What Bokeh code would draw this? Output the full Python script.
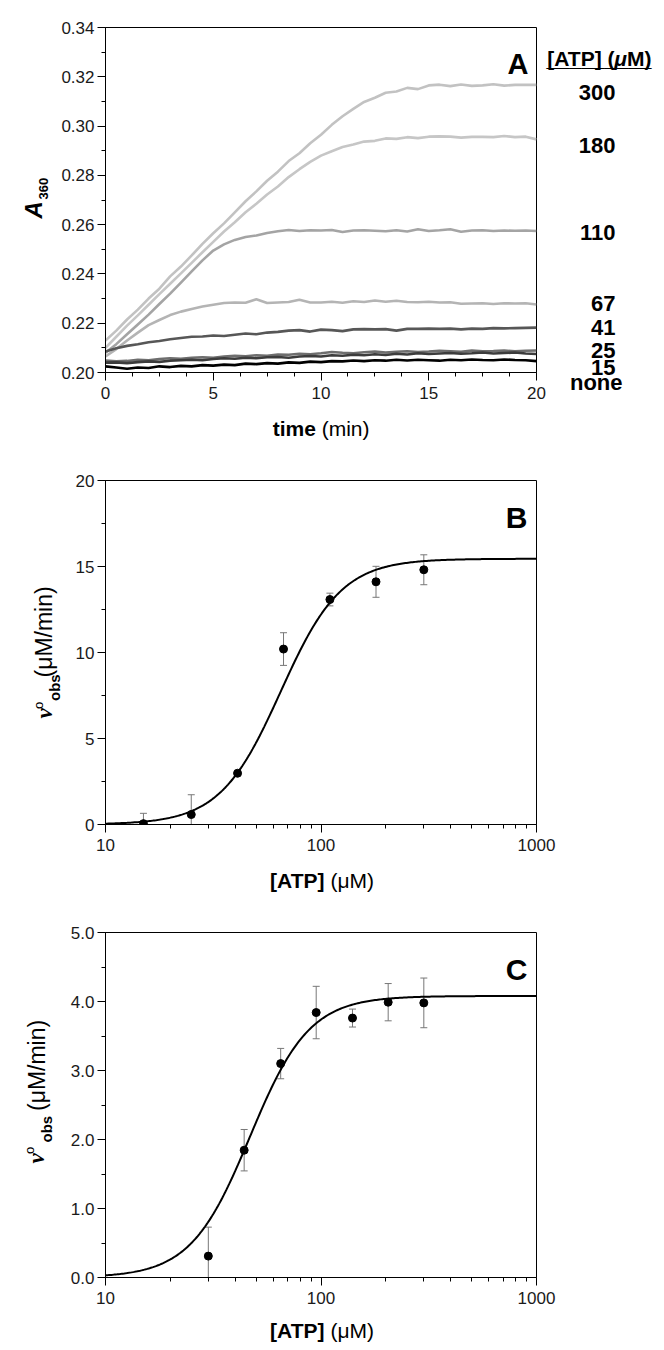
import numpy as np
from bokeh.plotting import figure
from bokeh.models import (Label, Range1d, SingleIntervalTicker, FixedTicker,
                          PrintfTickFormatter, Whisker, TeeHead, ColumnDataSource, GridBox)
from bokeh.layouts import column
from bokeh.embed import file_html
from bokeh.resources import INLINE

# ---------------- Panel A data ----------------
time_min = [0, 0.5, 1, 1.5, 2, 2.5, 3, 3.5, 4, 4.5, 5, 5.5, 6, 6.5, 7, 7.5, 8, 8.5, 9, 9.5,
            10, 10.5, 11, 11.5, 12, 12.5, 13, 13.5, 14, 14.5, 15, 15.5, 16, 16.5, 17, 17.5,
            18, 18.5, 19, 19.5, 20]

a_300 = [0.2130, 0.2170, 0.2215, 0.2255, 0.2300, 0.2340, 0.2390, 0.2430, 0.2475, 0.2522,
         0.2565, 0.2605, 0.2650, 0.2695, 0.2735, 0.2778, 0.2815, 0.2858, 0.2890, 0.2930,
         0.2965, 0.3005, 0.3040, 0.3070, 0.3098, 0.3115, 0.3135, 0.3140, 0.3155, 0.3150,
         0.3165, 0.3168, 0.3162, 0.3169, 0.3163, 0.3165, 0.3170, 0.3164, 0.3167, 0.3167, 0.3167]
a_180 = [0.2100, 0.2145, 0.2190, 0.2232, 0.2275, 0.2318, 0.2360, 0.2402, 0.2445, 0.2488,
         0.2530, 0.2572, 0.2610, 0.2650, 0.2685, 0.2722, 0.2755, 0.2793, 0.2825, 0.2855,
         0.2880, 0.2898, 0.2915, 0.2925, 0.2937, 0.2940, 0.2950, 0.2948, 0.2955, 0.2951,
         0.2957, 0.2958, 0.2957, 0.2953, 0.2956, 0.2956, 0.2955, 0.2960, 0.2955, 0.2957, 0.2946]
a_110 = [0.2080, 0.2115, 0.2155, 0.2195, 0.2235, 0.2278, 0.2320, 0.2365, 0.2410, 0.2455,
         0.2495, 0.2520, 0.2538, 0.2550, 0.2556, 0.2566, 0.2573, 0.2578, 0.2574, 0.2577,
         0.2576, 0.2578, 0.2570, 0.2576, 0.2577, 0.2575, 0.2573, 0.2577, 0.2572, 0.2581,
         0.2574, 0.2577, 0.2581, 0.2571, 0.2576, 0.2577, 0.2574, 0.2576, 0.2575, 0.2576, 0.2574]
a_67 = [0.2065, 0.2095, 0.2130, 0.2162, 0.2192, 0.2213, 0.2233, 0.2247, 0.2258, 0.2268,
        0.2275, 0.2282, 0.2284, 0.2283, 0.2297, 0.2282, 0.2284, 0.2286, 0.2295, 0.2284,
        0.2284, 0.2287, 0.2283, 0.2289, 0.2286, 0.2292, 0.2287, 0.2291, 0.2286, 0.2285,
        0.2287, 0.2284, 0.2285, 0.2279, 0.2280, 0.2281, 0.2278, 0.2281, 0.2280, 0.2281, 0.2276]
a_41 = [0.2085, 0.2098, 0.2108, 0.2115, 0.2123, 0.2128, 0.2135, 0.2140, 0.2145, 0.2146,
        0.2150, 0.2148, 0.2153, 0.2158, 0.2155, 0.2162, 0.2165, 0.2170, 0.2172, 0.2166,
        0.2174, 0.2172, 0.2168, 0.2175, 0.2176, 0.2175, 0.2176, 0.2170, 0.2177, 0.2177,
        0.2178, 0.2177, 0.2178, 0.2175, 0.2178, 0.2177, 0.2180, 0.2179, 0.2180, 0.2181, 0.2182]
a_25 = [0.2048, 0.2045, 0.2047, 0.2052, 0.2050, 0.2055, 0.2058, 0.2056, 0.2060, 0.2062,
        0.2060, 0.2065, 0.2068, 0.2066, 0.2070, 0.2068, 0.2073, 0.2072, 0.2076, 0.2074,
        0.2078, 0.2083, 0.2080, 0.2078, 0.2082, 0.2085, 0.2081, 0.2084, 0.2086, 0.2083,
        0.2085, 0.2088, 0.2086, 0.2084, 0.2089, 0.2086, 0.2087, 0.2089, 0.2086, 0.2088, 0.2089]
a_15 = [0.2040, 0.2041, 0.2038, 0.2042, 0.2045, 0.2043, 0.2048, 0.2050, 0.2052, 0.2050,
        0.2055, 0.2058, 0.2056, 0.2060, 0.2058, 0.2062, 0.2063, 0.2060, 0.2065, 0.2067,
        0.2065, 0.2070, 0.2068, 0.2072, 0.2070, 0.2074, 0.2071, 0.2076, 0.2073, 0.2078,
        0.2075, 0.2077, 0.2079, 0.2076, 0.2078, 0.2081, 0.2077, 0.2079, 0.2081, 0.2077, 0.2075]
a_none = [0.2025, 0.2020, 0.2015, 0.2020, 0.2018, 0.2025, 0.2022, 0.2027, 0.2025, 0.2030,
          0.2028, 0.2032, 0.2030, 0.2036, 0.2034, 0.2038, 0.2036, 0.2041, 0.2039, 0.2044,
          0.2042, 0.2046, 0.2045, 0.2049, 0.2046, 0.2050, 0.2048, 0.2052, 0.2049, 0.2052,
          0.2050, 0.2048, 0.2052, 0.2050, 0.2053, 0.2051, 0.2050, 0.2053, 0.2051, 0.2050, 0.2046]

curve_labels = ["300", "180", "110", "67", "41", "25", "15", "none"]
curve_series = [a_300, a_180, a_110, a_67, a_41, a_25, a_15, a_none]
curve_colors = ["#c2c2c2", "#c6c6c6", "#a4a4a4", "#b4b4b4", "#575757", "#6e6e6e", "#3c3c3c", "#000000"]

# ---------------- Panel B data ----------------
b_atp = [15, 25, 41, 67, 110, 180, 300]
b_v = [0.05, 0.58, 2.98, 10.2, 13.08, 14.11, 14.81]
b_err = [0.6, 1.15, 0.1, 0.95, 0.37, 0.9, 0.87]
b_vmax, b_k, b_n = 15.45, 65.0, 3.08

# ---------------- Panel C data ----------------
c_atp = [30, 44, 65, 95, 140, 205, 300]
c_v = [0.31, 1.845, 3.10, 3.84, 3.76, 3.99, 3.98]
c_err = [0.42, 0.30, 0.22, 0.38, 0.13, 0.27, 0.36]
c_vmax, c_k, c_n = 4.08, 46.8, 3.15

log_major = [10, 100, 1000]
log_minor = [20, 30, 40, 50, 60, 70, 80, 90, 200, 300, 400, 500, 600, 700, 800, 900]

FONT = "Liberation Sans"
SERIF = "Liberation Serif"
PAGE_W, PAGE_H = 664, 1350


def make_fig(top, fh, bottom, log=False):
    p = figure(frame_width=431, frame_height=fh, min_border_left=105, min_border_right=128,
               min_border_top=top, min_border_bottom=bottom, output_backend="svg",
               toolbar_location=None, x_axis_type="log" if log else "linear")
    p.outline_line_color = "black"
    p.outline_line_width = 1
    p.grid.visible = False
    p.background_fill_color = "white"
    p.border_fill_color = "white"
    for ax in p.axis:
        ax.axis_line_color = "black"
        ax.major_tick_line_color = "black"
        ax.minor_tick_line_color = "black"
        ax.major_tick_out = 8
        ax.major_tick_in = 0
        ax.minor_tick_out = 4
        ax.minor_tick_in = 0
        ax.major_label_text_font = FONT
        ax.major_label_text_font_size = "17px"
        ax.major_label_text_color = "#1a1a1a"
        ax.axis_label = None
    p.yaxis.major_label_standoff = 3
    p.xaxis.major_label_standoff = 6
    return p


# ---------------- Panel A ----------------
pa = make_fig(27, 345, 68)
pa.x_range = Range1d(0, 20)
pa.y_range = Range1d(0.20, 0.34)
pa.xaxis.ticker = SingleIntervalTicker(interval=5, num_minor_ticks=4)
pa.yaxis.ticker = SingleIntervalTicker(interval=0.02, num_minor_ticks=2)
pa.yaxis.formatter = PrintfTickFormatter(format="%.2f")
for ser, col in zip(curve_series, curve_colors):
    pa.line(time_min, ser, line_color=col, line_width=2.6)

# ---------------- Panel B ----------------
pb = make_fig(40, 344, 76, log=True)
pb.x_range = Range1d(10, 1000)
pb.y_range = Range1d(0, 20)
pb.xaxis.ticker = FixedTicker(ticks=log_major, minor_ticks=log_minor)
pb.xaxis.formatter = PrintfTickFormatter(format="%d")
pb.yaxis.ticker = SingleIntervalTicker(interval=5, num_minor_ticks=2)
xs = np.logspace(1, 3, 300)
pb.line(xs, b_vmax * xs ** b_n / (b_k ** b_n + xs ** b_n), line_color="black", line_width=2)
srcb = ColumnDataSource(dict(x=b_atp, y=b_v,
                             up=[v + e for v, e in zip(b_v, b_err)],
                             lo=[max(v - e, 0) for v, e in zip(b_v, b_err)]))
pb.add_layout(Whisker(base="x", upper="up", lower="lo", source=srcb, line_color="#777777",
                      line_width=1,
                      upper_head=TeeHead(size=7, line_color="#777777", line_width=1),
                      lower_head=TeeHead(size=7, line_color="#777777", line_width=1)))
pb.scatter("x", "y", source=srcb, size=8, color="black")

# ---------------- Panel C ----------------
pc = make_fig(32, 345, 73, log=True)
pc.x_range = Range1d(10, 1000)
pc.y_range = Range1d(0, 5)
pc.xaxis.ticker = FixedTicker(ticks=log_major, minor_ticks=log_minor)
pc.xaxis.formatter = PrintfTickFormatter(format="%d")
pc.yaxis.ticker = SingleIntervalTicker(interval=1, num_minor_ticks=2)
pc.yaxis.formatter = PrintfTickFormatter(format="%.1f")
pc.line(xs, c_vmax * xs ** c_n / (c_k ** c_n + xs ** c_n), line_color="black", line_width=2)
srcc = ColumnDataSource(dict(x=c_atp, y=c_v,
                             up=[v + e for v, e in zip(c_v, c_err)],
                             lo=[max(v - e, 0) for v, e in zip(c_v, c_err)]))
pc.add_layout(Whisker(base="x", upper="up", lower="lo", source=srcc, line_color="#777777",
                      line_width=1,
                      upper_head=TeeHead(size=7, line_color="#777777", line_width=1),
                      lower_head=TeeHead(size=7, line_color="#777777", line_width=1)))
pc.scatter("x", "y", source=srcc, size=8, color="black")

# ---------------- transparent text overlay (page pixel coordinates) ----------------
ov = figure(width=PAGE_W, height=PAGE_H, min_border=0, output_backend="svg",
            toolbar_location=None, x_axis_location=None, y_axis_location=None,
            x_range=Range1d(0, PAGE_W), y_range=Range1d(0, PAGE_H))
ov.grid.visible = False
ov.outline_line_color = None
ov.background_fill_alpha = 0
ov.border_fill_alpha = 0


def lab(px, py, text, size, style="normal", font=FONT, align="left", angle=0.0):
    ov.add_layout(Label(x=px, y=PAGE_H - py, text=text, text_font=font,
                        text_font_size=f"{size}px", text_font_style=style,
                        text_align=align, text_baseline="alphabetic", angle=angle,
                        text_color="black"))


R = np.pi / 2
# Panel A texts
lab(528, 63, "A", 29, "bold", align="right")
lab(651, 58.3, "M)", 21, "bold", align="right")
lab(626.5, 58.3, "\u03bc", 21, "bold italic", align="right")
lab(614, 58.3, "[ATP] (", 21, "bold", align="right")
lab(651, 58.3, "_________", 21, "bold", align="right")
label_baselines = [91.7, 145, 232.3, 302.7, 326.7, 350, 366.7, 381.7]
for txt, yb in zip(curve_labels, label_baselines):
    lab(622 if txt == "none" else 615, yb, txt, 22, "bold", align="right")
lab(315.4, 428.3, "time", 21, "bold", align="right")
lab(321.2, 428.3, "(min)", 21)
lab(33, 218, "A", 24, "bold italic", angle=R)
lab(43, 199, "360", 13, "bold", angle=R)

# Panel B texts
lab(527, 516.7, "B", 30, "bold", align="right")
lab(324, 880, "[ATP]", 21, "bold", align="right")
lab(330, 880, "(\u03bcM)", 21)
lab(43.5, 718, "\u03bd", 23, "bold italic", font=SERIF, angle=R)
lab(38, 708.5, "o", 13, angle=R)
lab(54, 700.5, "obs", 15, "bold", angle=R)
lab(43.5, 677, "(\u03bcM/min)", 23, angle=R)

# Panel C texts
lab(527, 968.5, "C", 30, "bold", align="right")
lab(324, 1330, "[ATP]", 21, "bold", align="right")
lab(330, 1330, "(\u03bcM)", 21)
lab(36, 1163, "\u03bd", 23, "bold italic", font=SERIF, angle=R)
lab(29, 1153.5, "o", 13, angle=R)
lab(46, 1142, "obs", 15, "bold", angle=R)
lab(36, 1110.5, "(\u03bcM/min)", 23, angle=R)

plots = column(pa, pb, pc, spacing=0)
layout = GridBox(children=[(plots, 0, 0), (ov, 0, 0)])
open("out.html", "w").write(file_html(layout, INLINE))
